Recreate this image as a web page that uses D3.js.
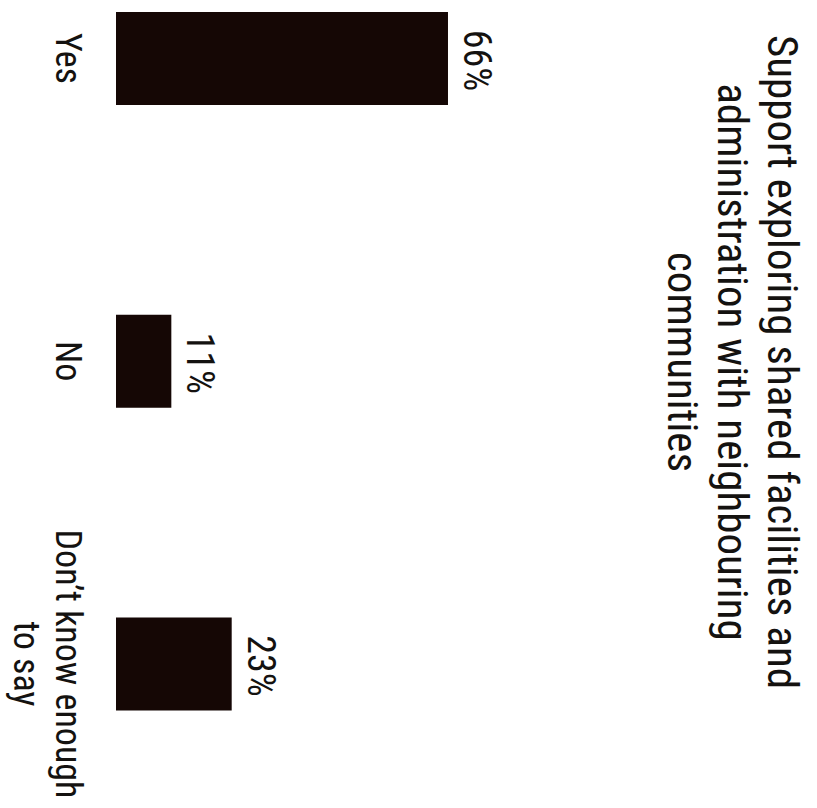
<!DOCTYPE html>
<html>
<head>
<meta charset="utf-8">
<script src="https://cdn.jsdelivr.net/npm/d3@7"></script>
<style>
  html, body { margin: 0; padding: 0; background: #ffffff; }
  svg { display: block; }
  text { font-family: "Liberation Sans Narrow", "Arial Narrow", "Roboto Condensed", sans-serif; fill: #141210; }
</style>
</head>
<body>
<script>
const categories = ["Yes", "No", "Don’t know enough to say"];
const categoryLines = [["Yes"], ["No"], ["Don’t know enough", "to say"]];
const values = [66, 11, 23];
const valueLabels = ["66%", "11%", "23%"];
const titleLines = [
  "Support exploring shared facilities and",
  "administration with neighbouring",
  "communities"
];

const W = 817, H = 808;
const svg = d3.select("body").append("svg").attr("width", W).attr("height", H);
svg.append("rect").attr("width", W).attr("height", H).attr("fill", "#ffffff");

// Chart is drawn rotated: bars grow to the right, categories run downward.
const x = d3.scaleLinear().domain([0, 100]).range([116, 619]);
const y = d3.scalePoint().domain(categories).range([58.5, 664]);
const barThickness = 93;

svg.selectAll("rect.bar")
  .data(values)
  .join("rect")
  .attr("class", "bar")
  .attr("x", x(0))
  .attr("y", (d, i) => y(categories[i]) - barThickness / 2)
  .attr("width", d => x(d) - x(0))
  .attr("height", barThickness)
  .attr("fill", "#150705");

// value labels
svg.selectAll("text.val")
  .data(values)
  .join("text")
  .attr("class", "val")
  .attr("transform", (d, i) => `translate(${x(d) + 16},${y(categories[i]) + 2}) rotate(90)`)
  .attr("text-anchor", "middle")
  .attr("font-size", 38)
  .text((d, i) => valueLabels[i]);

// category labels
const catG = svg.selectAll("text.cat")
  .data(categories)
  .join("text")
  .attr("class", "cat")
  .attr("transform", d => `translate(56,${y(d)}) rotate(90)`)
  .attr("text-anchor", "middle")
  .attr("font-size", 36);
catG.each(function(d, i) {
  const t = d3.select(this);
  categoryLines[i].forEach((line, j) => {
    t.append("tspan").attr("x", 0).attr("dy", j === 0 ? 0 : 42).text(line);
  });
});

// title
const title = svg.append("text")
  .attr("transform", "translate(768,362) rotate(90)")
  .attr("text-anchor", "middle")
  .attr("font-size", 43);
titleLines.forEach((line, j) => {
  title.append("tspan").attr("x", 0).attr("dy", j === 0 ? 0 : 50).text(line);
});
</script>
</body>
</html>
